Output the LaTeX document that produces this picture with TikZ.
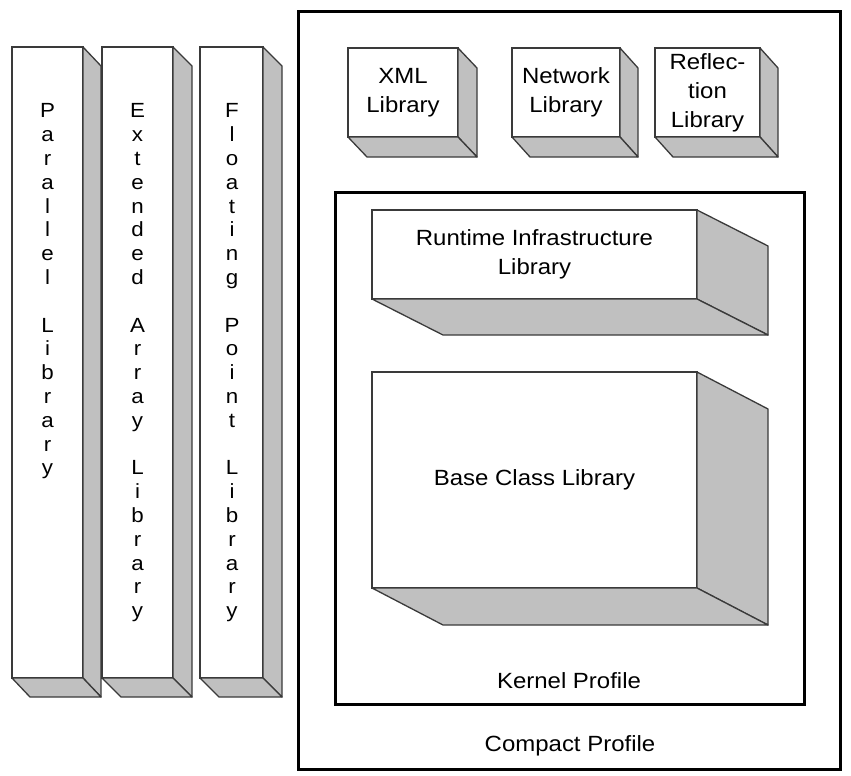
\documentclass[tikz,border=0pt]{standalone}
\usepackage{fontspec}
\setmainfont{Liberation Sans}[FakeStretch=1.09]
\definecolor{edgecol}{HTML}{3A3A3A}
\definecolor{sidegray}{HTML}{C0C0C0}
\newcommand\boxfont{\fontsize{22bp}{29bp}\selectfont}
\newcommand\colfont{\fontsize{20.5bp}{23.8bp}\selectfont}
% name, x, y, w, h, dx, dy, text
\newcommand\cuboid[8]{%
  \node[face, minimum width=#4bp, minimum height=#5bp] (#1) at (#2,#3) {#8};
  \draw[shadeface] (#1.north east) -- ++(#6,#7) -- ([shift={(#6,#7)}]#1.south east) -- (#1.south east) -- cycle;
  \draw[shadeface] (#1.south west) -- (#1.south east) -- ([shift={(#6,#7)}]#1.south east) -- ([shift={(#6,#7)}]#1.south west) -- cycle;
}
\begin{document}
\begin{tikzpicture}[x=1bp,y=-1bp,
  face/.style={draw=edgecol, line width=1.3bp, fill=white, inner sep=0pt, outer sep=0pt,
               anchor=north west, align=center, font=\boxfont},
  shadeface/.style={draw=edgecol, line width=1.3bp, fill=sidegray, line join=round},
  profile/.style={draw=black, line width=3bp, inner sep=0pt, outer sep=0pt, anchor=north west},
  lbl/.style={inner sep=0pt, font=\boxfont},
  coltext/.style={inner sep=0pt, anchor=north, align=center, font=\colfont}]
\useasboundingbox (0,0) rectangle (851,776);

% profiles
\node[profile, minimum width=542bp, minimum height=757bp] (compact) at (298,12) {};
\node[profile, minimum width=469bp, minimum height=512bp] (kernel) at (335,192) {};
\node[lbl] (kernellbl) at (569,681) {Kernel Profile};
\node[lbl] (compactlbl) at (570,746) {Compact Profile};

% columns
\cuboid{par}{12}{47}{71}{631}{18}{19}{}
\cuboid{ext}{102}{47}{71}{631}{19}{19}{}
\cuboid{flt}{200}{47}{63}{631}{19}{19}{}
\node[coltext] (partxt) at (47.5,103.5) {P\\a\\r\\a\\l\\l\\e\\l\\~\\L\\i\\b\\r\\a\\r\\y};
\node[coltext] (exttxt) at (137.5,103.5) {E\\x\\t\\e\\n\\d\\e\\d\\~\\A\\r\\r\\a\\y\\~\\L\\i\\b\\r\\a\\r\\y};
\node[coltext] (flttxt) at (232,103.5) {F\\l\\o\\a\\t\\i\\n\\g\\~\\P\\o\\i\\n\\t\\~\\L\\i\\b\\r\\a\\r\\y};

% compact profile libraries
\cuboid{xml}{348}{48}{110}{89}{19}{20}{XML\\Library}
\cuboid{net}{512}{48}{108}{89}{18}{20}{Network\\Library}
\cuboid{refl}{655}{48}{105}{89}{18}{20}{Reflec-\\tion\\Library}

% kernel profile libraries
\cuboid{rt}{372}{210}{325}{89}{71}{36}{Runtime Infrastructure\\Library}
\cuboid{bcl}{372}{372}{325}{216}{71}{37}{Base Class Library}
\end{tikzpicture}
\end{document}
